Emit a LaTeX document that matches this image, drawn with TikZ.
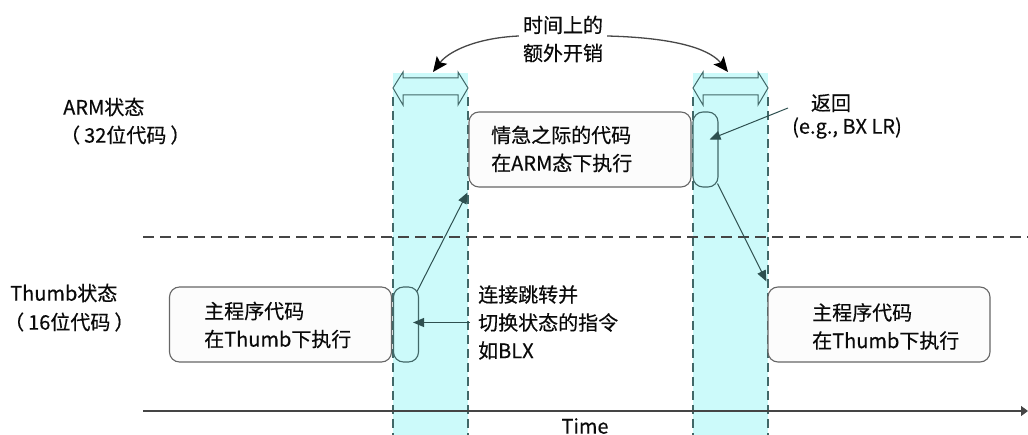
\documentclass[tikz,border=0pt]{standalone}
\usepackage{fontspec}
\setmainfont{Noto Sans CJK SC}[FakeBold=0.4]
\usetikzlibrary{arrows.meta}
\definecolor{bandfill}{HTML}{CCFAFA}
\definecolor{bandline}{HTML}{416868}
\definecolor{conncol}{HTML}{2E5050}
\definecolor{boxline}{HTML}{666666}
\definecolor{txt}{HTML}{0A0A0A}
\definecolor{axiscol}{HTML}{454545}
\newcommand\mydblarr[2]{%
  \draw[bandline, line width=1pt, line join=miter]
    (#1,88) -- ({#1+10},72) -- ({#1+10},78) -- ({#2-10},78) -- ({#2-10},72) -- (#2,88)
    -- ({#2-10},105) -- ({#2-10},95) -- ({#1+10},95) -- ({#1+10},105) -- cycle;}
\begin{document}
\begin{tikzpicture}[x=1pt,y=-1pt,
  every node/.style={font=\fontsize{20}{28}\selectfont, text=txt, inner sep=0pt},
  mainbox/.style={draw=boxline, line width=1.1pt, fill=black!1, rounded corners=10pt,
    minimum width=222pt, minimum height=75pt},
  smallbox/.style={draw=bandline, line width=1.1pt, fill=bandfill, rounded corners=10pt,
    minimum width=25pt, minimum height=75pt},
  vdash/.style={draw=bandline, line width=1.3pt, dash pattern=on 9pt off 5pt},
  hdash/.style={draw=axiscol, line width=1.4pt, dash pattern=on 11pt off 6pt},
  conn/.style={draw=conncol, line width=1pt, -{Triangle[length=11pt,width=9pt]}},
  curvarr/.style={draw=black!72, line width=1.3pt, -{Stealth[length=15pt,width=13pt,inset=3pt,color=black]}},
]
\useasboundingbox (0,0) rectangle (1028,435);
% bands
\fill[bandfill] (393,73) rectangle (468,435);
\fill[bandfill] (693,73) rectangle (768,435);
\mydblarr{393}{468}
\mydblarr{693}{768}
\draw[vdash] (393,97) -- (393,435);
\draw[vdash] (468,97) -- (468,435);
\draw[vdash] (693,97) -- (693,435);
\draw[vdash] (768,97) -- (768,435);
% state separator and time axis
\draw[hdash] (143,237) -- (1028,237);
\draw[draw=axiscol, line width=1.2pt, -{Triangle[length=7pt,width=10pt]}] (143,411) -- (1028,411);
% boxes
\node[mainbox] (m1) at (280.5,324.5) {};
\node[mainbox] (arm) at (580,149.5) {};
\node[mainbox] (m2) at (879,324.5) {};
\node[smallbox] (s1) at (406,324.5) {};
\node[smallbox] (s2) at (705.5,149.5) {};
% texts
\node[anchor=west, align=left] (t1) at (204,325) {主程序代码\\在Thumb下执行};
\node[anchor=west, align=left] (tarm) at (491,149) {情急之际的代码\\在ARM态下执行};
\node[anchor=west, align=left] (t2) at (812,326.5) {主程序代码\\在Thumb下执行};
\node[anchor=west] (la1) at (63,107) {ARM状态};
\node[anchor=west] (la2) at (60,135) {（\hspace{4pt}32位代码\hspace{4pt}）};
\node[anchor=west] (lt1) at (10,293) {Thumb状态};
\node[anchor=west] (lt2) at (4,322) {（\hspace{4pt}16位代码\hspace{4pt}）};
\node (time) at (585,426) {Time};
\node[align=center] (ovh) at (563,39) {时间上的\\额外开销};
\node (ret1) at (831,103) {返回};
\node (ret2) at (847,128) {(e.g., BX LR)};
\node[anchor=west, align=left] (blx) at (478,322.5) {连接跳转并\\切换状态的指令\\如BLX};
% connectors
\coordinate (da1) at (433,72);
\coordinate (da2) at (728,72);
\coordinate (retp) at (788,108);
\coordinate (blxs) at ([xshift=-8pt]blx.west);
\path (blxs -| s1.east) coordinate (blxe);
\draw[curvarr] ([shift={(-4,-3)}]ovh.west) .. controls (475,38) and (448,52) .. (da1);
\draw[curvarr] ([shift={(4,-3)}]ovh.east) .. controls (685,38) and (712,52) .. (da2);
\draw[conn] ([shift={(-2,5)}]s1.north east) -- ([shift={(-1,5)}]arm.south west);
\draw[conn] (blxs) -- ([xshift=-6pt]blxe);
\draw[conn] (retp) -- ([shift={(4,-10)}]s2.center);
\draw[conn] ([shift={(-1,-4)}]s2.south east) -- ([shift={(-1,-5)}]m2.north west);
\end{tikzpicture}
\end{document}
